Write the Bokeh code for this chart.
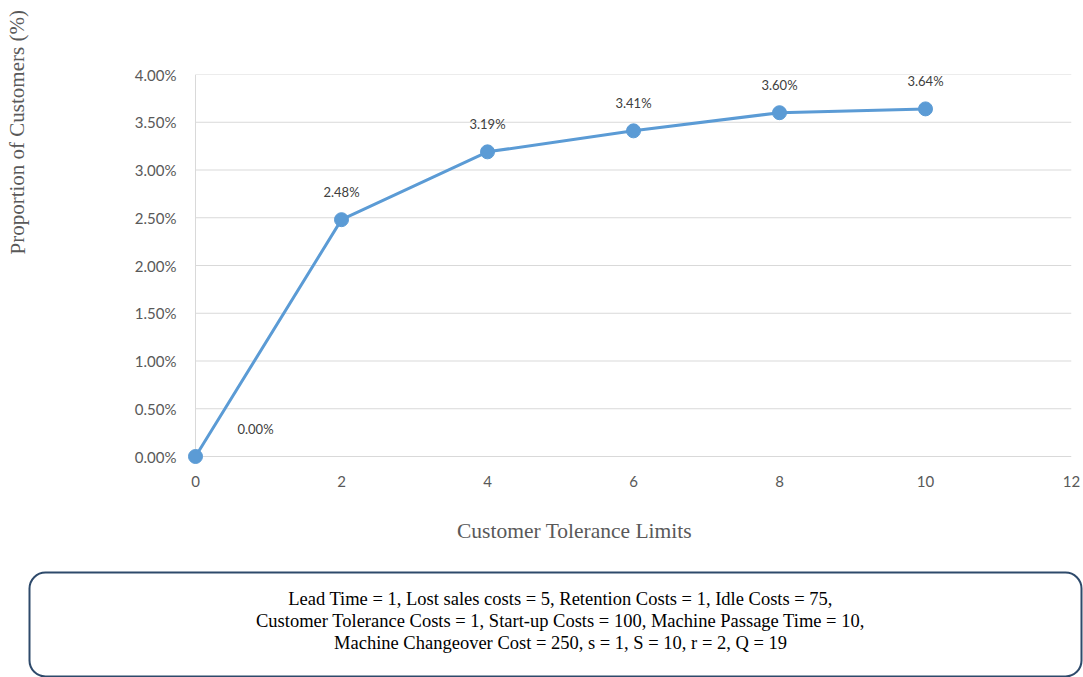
from bokeh.plotting import figure
from bokeh.layouts import column, row
from bokeh.models import (ColumnDataSource, FixedTicker, NumeralTickFormatter,
                          LabelSet, BoxAnnotation, Range1d)
from bokeh.core.properties import value
from bokeh.embed import file_html
from bokeh.resources import INLINE

# Customer tolerance limits and the share of customers lost
tolerance = [0, 2, 4, 6, 8, 10]
proportion = [0.0000, 0.0248, 0.0319, 0.0341, 0.0360, 0.0364]
labels = ["0.00%", "2.48%", "3.19%", "3.41%", "3.60%", "3.64%"]
x_ticks = [0, 2, 4, 6, 8, 10, 12]
y_ticks = [0.0, 0.005, 0.01, 0.015, 0.02, 0.025, 0.03, 0.035, 0.04]

x_title = "Customer Tolerance Limits"
y_title = "Proportion of Customers (%)"
params = [
    "Lead Time = 1, Lost sales costs = 5, Retention Costs = 1, Idle Costs = 75,",
    "Customer Tolerance Costs = 1, Start-up Costs = 100, Machine Passage Time = 10,",
    "Machine Changeover Cost = 250, s = 1, S = 10, r = 2, Q = 19",
]

GRID = "#d9d9d9"
TXT = "#595959"
BLUE = "#5b9bd5"
SANS = "Lato"
SERIF = "Liberation Serif"

W, H = 1083, 677
LEFT_W = 40          # strip holding the vertical title
TOP_H = 500          # height of the chart row
# the frame reaches a little past x=0 and y=0 so the first marker is whole
FL, FB, FR, FT = 183, 468, 1071, 74
PX_X = 73.0          # pixels per x unit
PX_Y = 9550.0        # pixels per y unit (fraction)


def blank(width, height):
    """A bare figure whose data units are page pixels (y counted upward)."""
    f = figure(width=width, height=height, output_backend="svg",
               toolbar_location=None,
               x_range=Range1d(0, width), y_range=Range1d(0, height),
               min_border=0, frame_align=False)
    f.axis.visible = False
    f.grid.grid_line_color = None
    f.outline_line_color = None
    f.background_fill_color = "white"
    f.border_fill_color = "white"
    return f


# ---- main chart -----------------------------------------------------------
p = figure(width=W - LEFT_W, height=TOP_H, output_backend="svg",
           toolbar_location=None, frame_align=False,
           x_range=Range1d(-(195 - FL) / PX_X, 12),
           y_range=Range1d(-(FB - 456) / PX_Y, 0.04),
           min_border_left=FL - LEFT_W, min_border_right=W - FR,
           min_border_top=FT, min_border_bottom=TOP_H - FB)
p.outline_line_color = None
p.background_fill_color = "white"
p.border_fill_color = "white"

p.xaxis.ticker = FixedTicker(ticks=x_ticks)
p.yaxis.ticker = FixedTicker(ticks=y_ticks)
p.yaxis.formatter = NumeralTickFormatter(format="0.00%")
for ax in (p.xaxis[0], p.yaxis[0]):
    ax.major_tick_line_color = None
    ax.minor_tick_line_color = None
    ax.axis_line_color = None
    ax.major_label_text_font = SANS
    ax.major_label_text_font_size = "15px"
    ax.major_label_text_color = TXT
p.xaxis.major_label_standoff = 1
p.yaxis.major_label_standoff = 1
p.xgrid.grid_line_color = None
p.ygrid.grid_line_color = None

# horizontal gridlines and the vertical value axis line
n = len(y_ticks)
p.segment(x0=[0] * n, x1=[x_ticks[-1]] * n, y0=y_ticks, y1=y_ticks,
          line_color=GRID, line_width=1)
p.segment(x0=[0], x1=[0], y0=[y_ticks[0]], y1=[y_ticks[-1]],
          line_color=GRID, line_width=1)

src = ColumnDataSource(dict(x=tolerance, y=proportion, lab=labels,
                            dx=[60, 0, 0, 0, 0, 0]))
p.line("x", "y", source=src, line_color=BLUE, line_width=3)
p.scatter("x", "y", source=src, size=14, fill_color=BLUE, line_color=BLUE)
p.add_layout(LabelSet(x="x", y="y", text="lab", source=src,
                      x_offset="dx", y_offset=28,
                      text_font=value(SANS), text_font_size="13px",
                      text_color="#404040", text_align="center",
                      text_baseline="middle"))

# ---- vertical title strip -------------------------------------------------
left = blank(LEFT_W, TOP_H)
left.text(x=[17], y=[TOP_H - 254], text=[y_title], angle=1.5708,
          text_font=value(SERIF), text_font_size="21px", text_color=TXT,
          text_align="left", text_baseline="middle")

# ---- horizontal title and parameter box -----------------------------------
bot = blank(W, H - TOP_H)


def by(cy):
    return H - cy


bot.add_layout(BoxAnnotation(left=29, right=1081, bottom=by(676), top=by(572),
                             fill_color="white", fill_alpha=0.0,
                             line_color="#2e4a6b", line_alpha=1.0, line_width=2,
                             border_radius=16, level="underlay"))
bot.text(x=[574], y=[by(530)], text=[x_title],
         text_font=value(SERIF), text_font_size="21.5px", text_color=TXT,
         text_align="center", text_baseline="middle")
bot.text(x=[560] * len(params), y=[by(598 + 22 * i) for i in range(len(params))],
         text=params, text_font=value(SERIF), text_font_size="18.5px",
         text_color="black", text_align="center", text_baseline="middle")

layout = column(row(left, p), bot)
open("out.html", "w").write(file_html(layout, INLINE))
